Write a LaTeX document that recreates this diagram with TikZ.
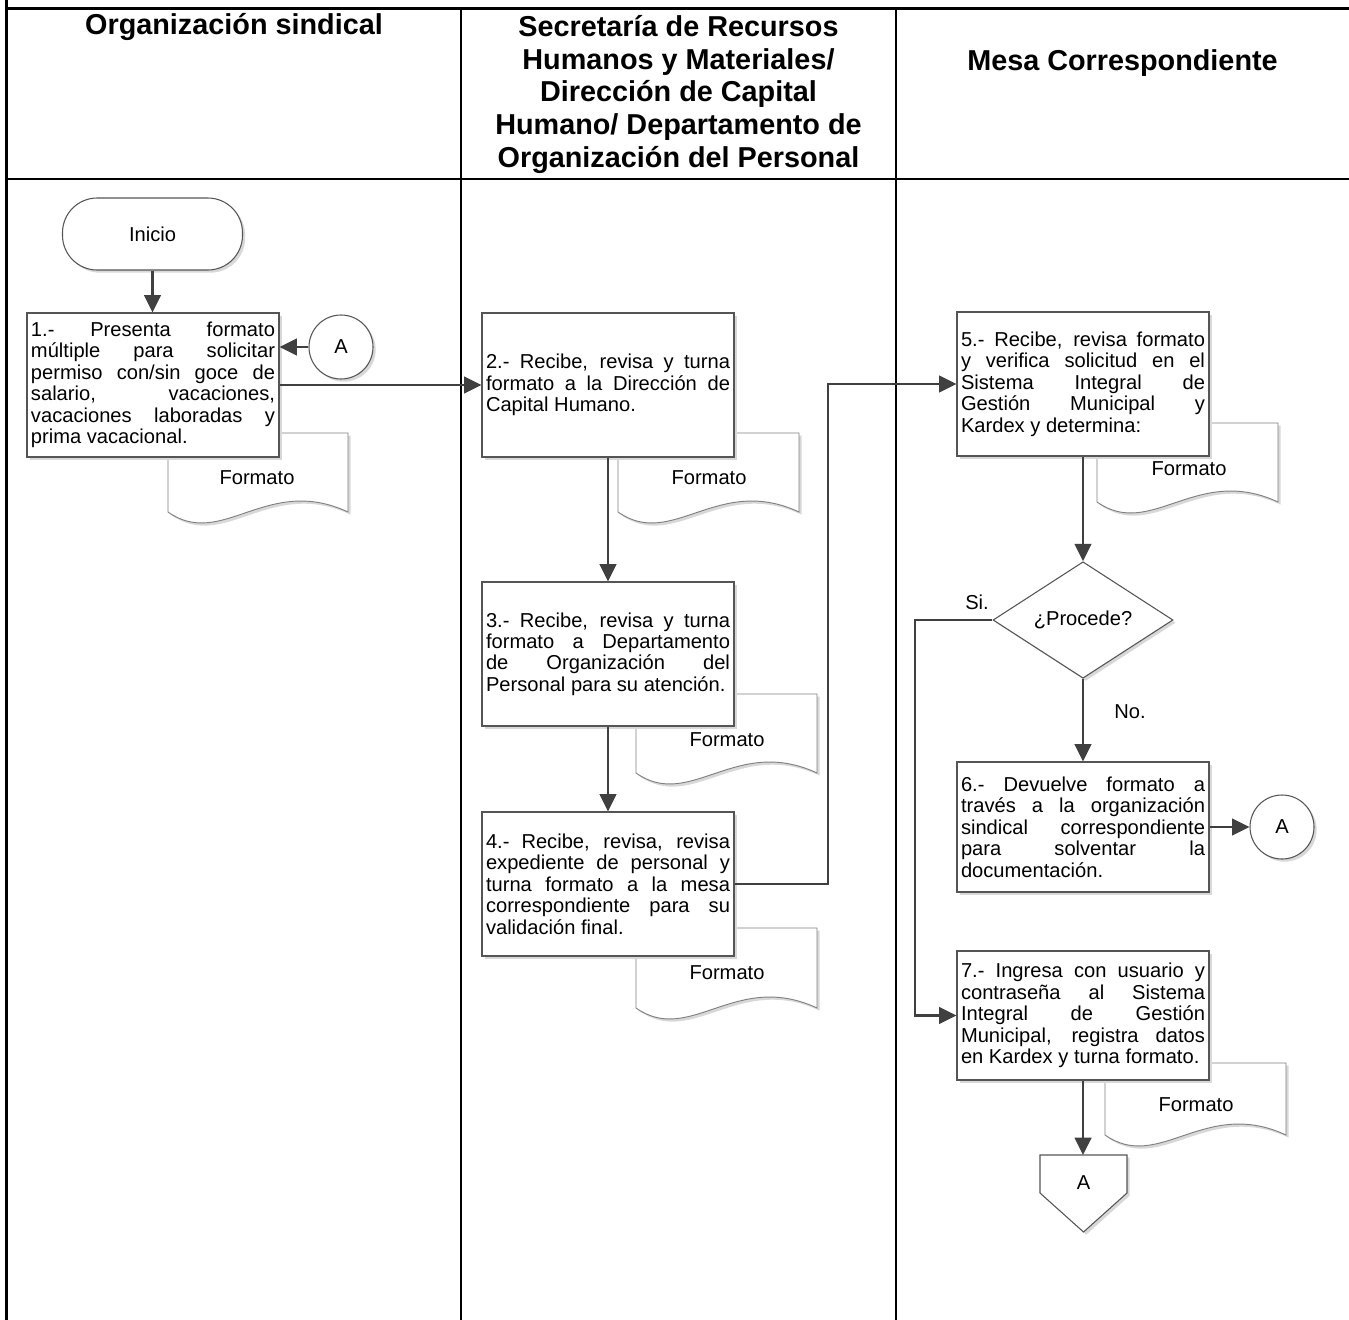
\documentclass[tikz,border=0pt]{standalone}
\usepackage{fontspec}
\setmainfont{Liberation Sans}
\usetikzlibrary{arrows.meta,shapes.geometric,shadows,calc}
\definecolor{conn}{HTML}{404040}
\definecolor{boxc}{HTML}{555555}
\definecolor{docc}{HTML}{808080}
\definecolor{shad}{HTML}{D8D8D8}
\newcommand\docshape[4]{%
  \draw[docstyle] (#1,#3) -- (#2,#3) -- (#2,#4)
    .. controls ({#1+0.55*(#2-#1)},{#4-38}) and ({#1+0.3*(#2-#1)},{#4+38}) .. (#1,#4) -- cycle;}
\begin{document}
\begin{tikzpicture}[x=0.75pt,y=-0.75pt,
  every node/.style={font=\fontsize{15.1}{16.1}\selectfont},
  frame/.style={line width=1.8pt, black},
  hdr/.style={font=\bfseries\fontsize{21.6}{24.4}\selectfont, align=center, inner sep=0pt},
  shd/.style={general shadow={shadow xshift=2pt, shadow yshift=-2pt, fill=shad}},
  proc/.style={rectangle, draw=boxc, line width=0.8pt, fill=white, shd,
    minimum width=189pt, text width=183pt, inner xsep=3pt, inner ysep=0pt,
    align=justify, minimum height=108pt,
    execute at begin node={\tolerance=10000\hbadness=10000\hfuzz=3pt\hyphenpenalty=10000\exhyphenpenalty=10000}},
  term/.style={rectangle, rounded corners=26pt, draw=boxc, line width=0.8pt, fill=white, shd,
    minimum width=135pt, minimum height=54pt},
  conncirc/.style={circle, draw=boxc, line width=0.8pt, fill=white, shd, minimum size=48pt, inner sep=0pt},
  decision/.style={diamond, draw=boxc, line width=0.8pt, fill=white, shd,
    minimum width=135pt, minimum height=80pt, inner sep=0pt},
  docstyle/.style={draw=docc, line width=0.7pt, fill=white, shd},
  arr/.style={draw=conn, line width=1.8pt, -{Triangle[length=13pt,width=12.5pt]}},
  lbl/.style={inner sep=0pt}
]
\useasboundingbox (0,0) rectangle (1349,1320);
% frame
\draw[frame] (6.5,0) -- (6.5,1320);
\draw[frame] (5.6,8.7) -- (1349,8.7);
\draw[frame] (5.6,178.7) -- (1349,178.7);
\draw[line width=1.4pt] (461,8.7) -- (461,1320);
\draw[line width=1.4pt] (896,8.7) -- (896,1320);
% headers
\node[hdr, anchor=base] (h1) at (234,35) {Organización sindical};
\node[hdr, anchor=north] (h2) at (678.5,15.5) {Secretaría de Recursos\\Humanos y Materiales/\\Dirección de Capital\\Humano/ Departamento de\\Organización del Personal};
\node[hdr, anchor=base] (h3) at (1122.5,70.7) {Mesa Correspondiente};
% documents
\docshape{168}{348}{433}{512}
\node (f1) at (257,478) {Formato};
\docshape{618}{799}{433}{512}
\node (f2) at (709,478) {Formato};
\docshape{636}{817}{694}{773}
\node (f3) at (727,740) {Formato};
\docshape{636}{817}{928}{1008}
\node (f4) at (727,973) {Formato};
\docshape{1097}{1278}{423}{502}
\node (f5) at (1189,469) {Formato};
\docshape{1105}{1286}{1063}{1135}
\node (f7) at (1196,1105) {Formato};
% nodes
\node[term] (inicio) at (152.5,234) {Inicio};
\node[proc] (b1) at (153,385) {1.- Presenta formato\linebreak múltiple para solicitar\linebreak permiso con/sin goce de\linebreak salario, vacaciones,\linebreak vacaciones laboradas y\linebreak prima vacacional.};
\node[conncirc] (cA1) at (341,347) {A};
\node[proc] (b2) at (608,385) {2.- Recibe, revisa y turna\linebreak formato a la Dirección de\linebreak Capital Humano.};
\node[proc] (b3) at (608,654) {3.- Recibe, revisa y turna\linebreak formato a Departamento\linebreak de Organización del\linebreak Personal para su atención.};
\node[proc] (b4) at (608,884) {4.- Recibe, revisa, revisa\linebreak expediente de personal y\linebreak turna formato a la mesa\linebreak correspondiente para su\linebreak validación final.};
\node[proc] (b5) at (1083,384) {5.- Recibe, revisa formato\linebreak y verifica solicitud en el\linebreak Sistema Integral de\linebreak Gestión Municipal y\linebreak Kardex y determina:};
\node[decision] (dec) at (1083,620) {¿Procede?};
\node[proc, minimum height=97.5pt] (b6) at (1083,827) {6.- Devuelve formato a\linebreak través a la organización\linebreak sindical correspondiente\linebreak para solventar la\linebreak documentación.};
\node[conncirc] (cA2) at (1282,827) {A};
\node[proc, minimum height=96.75pt] (b7) at (1083,1015.5) {7.- Ingresa con usuario y\linebreak contraseña al Sistema\linebreak Integral de Gestión\linebreak Municipal, registra datos\linebreak en Kardex y turna formato.};
% off-page connector
\draw[draw=boxc, line width=0.8pt, fill=white, shd] (1040,1155) -- (1127,1155) -- (1127,1193) -- (1083.5,1232) -- (1040,1193) -- cycle;
\coordinate (offtop) at (1083,1155);
\node (offA) at (1083.5,1183) {A};
% labels
\node[lbl] (si) at (977,602) {Si.};
\node[lbl] (no) at (1130,712) {No.};
% connectors
\coordinate (j1) at (828,884);
\coordinate (j2) at (915,620);
\draw[arr] (inicio.south) -- (inicio.south |- b1.north);
\draw[arr] (cA1.west) -- (cA1.west -| b1.east);
\draw[arr] (b1.east) -- (b2.west);
\draw[arr] (b2.south) -- (b3.north);
\draw[arr] (b3.south) -- (b4.north);
\draw[arr] (b4.east) -- (j1) |- (b5.west);
\draw[arr] (b5.south) -- (dec.north);
\draw[arr] (dec.west) -- (j2) |- (b7.west);
\draw[arr] (dec.south) -- (b6.north);
\draw[arr] (b6.east) -- (cA2.west);
\draw[arr] (b7.south) -- (offtop);
\end{tikzpicture}
\end{document}
